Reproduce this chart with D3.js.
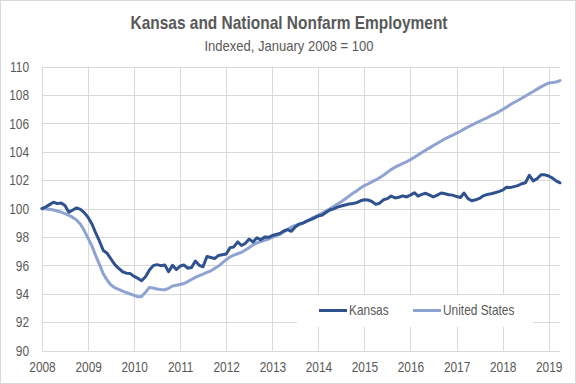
<!DOCTYPE html>
<html>
  <head>
    <title>Kansas and National Nonfarm Employment</title>
    <style>
      body {
        margin: 0;
        background: #fff;
      }
      svg {
        display: block;
        font-family: "Liberation Sans Narrow", "Arial Narrow", "Liberation Sans", sans-serif;
      }
    </style>
  </head>
  <body>
    <svg id="chart" width="576" height="384"></svg>
    <script src="https://d3js.org/d3.v7.min.js"></script>
    <script>
      // monthly index values, Jan 2008 .. Apr 2019 (Jan 2008 = 100)
      const startMonth = [2008, 0];
      const kansas = [
        100.00, 100.12, 100.28, 100.45, 100.35, 100.40, 100.22, 99.75, 99.90, 100.05, 99.95, 99.72,
        99.38, 98.90, 98.30, 97.70, 97.05, 96.85, 96.45, 96.05, 95.78, 95.55, 95.45, 95.42,
        95.22, 95.08, 94.92, 95.20, 95.65, 95.98, 96.05, 95.98, 96.02, 95.55, 96.00, 95.70,
        95.95, 96.02, 95.80, 95.85, 96.30, 96.00, 95.90, 96.62, 96.55, 96.48, 96.70, 96.75,
        96.80, 97.25, 97.30, 97.65, 97.40, 97.55, 97.85, 97.65, 97.95, 97.80, 98.00, 97.98,
        98.10, 98.18, 98.25, 98.42, 98.52, 98.40, 98.70, 98.90, 98.98, 99.12, 99.22, 99.35,
        99.48, 99.55, 99.72, 99.90, 99.98, 100.10, 100.18, 100.25, 100.32, 100.36, 100.42, 100.55,
        100.62, 100.60, 100.50, 100.30, 100.38, 100.62, 100.70, 100.88, 100.75, 100.80, 100.90, 100.82,
        100.95, 101.12, 100.88, 101.00, 101.08, 100.95, 100.82, 100.95, 101.10, 101.05, 100.98, 100.95,
        100.85, 100.78, 101.10, 100.70, 100.55, 100.62, 100.72, 100.90, 101.00, 101.05, 101.12, 101.20,
        101.30, 101.50, 101.48, 101.55, 101.62, 101.75, 101.82, 102.35, 101.95, 102.10, 102.38, 102.38,
        102.30, 102.15, 101.95, 101.82
      ];
      const unitedStates = [
        100.00, 99.97, 99.95, 99.90, 99.83, 99.75, 99.65, 99.52, 99.38, 99.20, 98.90, 98.45,
        97.90, 97.35, 96.70, 96.05, 95.40, 94.95, 94.62, 94.42, 94.30, 94.18, 94.08, 93.98,
        93.88, 93.78, 93.80, 94.10, 94.45, 94.40, 94.33, 94.30, 94.28, 94.38, 94.55, 94.60,
        94.65, 94.72, 94.85, 95.00, 95.15, 95.28, 95.38, 95.50, 95.62, 95.78, 95.95, 96.18,
        96.40, 96.60, 96.72, 96.82, 96.92, 97.08, 97.25, 97.45, 97.58, 97.68, 97.76, 97.85,
        97.98, 98.08, 98.18, 98.35, 98.52, 98.70, 98.82, 98.90, 99.00, 99.12, 99.28, 99.42,
        99.55, 99.68, 99.82, 99.98, 100.15, 100.32, 100.48, 100.68, 100.88, 101.08, 101.25, 101.45,
        101.62, 101.75, 101.88, 102.02, 102.18, 102.35, 102.55, 102.75, 102.92, 103.05, 103.18, 103.30,
        103.45, 103.62, 103.78, 103.95, 104.12, 104.28, 104.45, 104.60, 104.76, 104.92, 105.05, 105.18,
        105.32, 105.45, 105.60, 105.75, 105.88, 106.02, 106.15, 106.28, 106.40, 106.55, 106.68, 106.82,
        106.98, 107.15, 107.32, 107.48, 107.62, 107.78, 107.93, 108.10, 108.25, 108.42, 108.58, 108.72,
        108.85, 108.88, 108.92, 109.02
      ];
      const yearTicks = [2008, 2009, 2010, 2011, 2012, 2013, 2014, 2015, 2016, 2017, 2018, 2019];
      const valueTicks = [90, 92, 94, 96, 98, 100, 102, 104, 106, 108, 110];
      const seriesNames = ["Kansas", "United States"];
      const seriesColors = ["#2f528f", "#8fa3d3"];

      const svg = d3.select("#chart");
      const width = 576;
      const height = 384;
      const gridColor = "#d9d9d9";
      const textColor = "#595959";

      const months = kansas.map((v, i) => new Date(startMonth[0], startMonth[1] + i, 1));

      const x = d3
        .scaleTime()
        .domain([months[0], months[months.length - 1]])
        .range([42, 560]);
      const y = d3.scaleLinear().domain([90, 110]).range([350.5, 66.7]);

      // squeeze text horizontally so it looks like the narrow font of the original
      function narrow(sel, factor) {
        sel.each(function() {
          const w = this.getComputedTextLength();
          d3.select(this)
            .attr("textLength", w * factor)
            .attr("lengthAdjust", "spacingAndGlyphs");
        });
      }

      // outer border
      svg
        .append("rect")
        .attr("x", 0.5)
        .attr("y", 0.5)
        .attr("width", width - 1)
        .attr("height", height - 1)
        .attr("fill", "#fff")
        .attr("stroke", gridColor);

      // gridlines
      const grid = svg.append("g");
      grid
        .selectAll("line.h")
        .data(valueTicks)
        .join("line")
        .attr("class", "h")
        .attr("x1", x.range()[0])
        .attr("x2", x.range()[1])
        .attr("y1", d => Math.round(y(d)) + 0.5)
        .attr("y2", d => Math.round(y(d)) + 0.5)
        .attr("stroke", gridColor);
      grid
        .selectAll("line.v")
        .data(yearTicks)
        .join("line")
        .attr("class", "v")
        .attr("x1", d => Math.round(x(new Date(d, 0, 1))) + 0.5)
        .attr("x2", d => Math.round(x(new Date(d, 0, 1))) + 0.5)
        .attr("y1", y(110))
        .attr("y2", y(90))
        .attr("stroke", gridColor);

      // axes (labels only, Excel style)
      const xAxis = svg
        .append("g")
        .attr("transform", "translate(0," + y(90) + ")")
        .call(
          d3
            .axisBottom(x)
            .tickValues(yearTicks.map(d => new Date(d, 0, 1)))
            .tickFormat(d3.timeFormat("%Y"))
            .tickSize(0)
            .tickPadding(11)
        );
      const yAxis = svg
        .append("g")
        .attr("transform", "translate(" + x.range()[0] + ",0)")
        .call(d3.axisLeft(y).tickValues(valueTicks).tickSize(0).tickPadding(13));
      [xAxis, yAxis].forEach(g => {
        g.select(".domain").remove();
        g.selectAll("text")
          .attr("fill", textColor)
          .style("font-family", "Liberation Sans, Arial, sans-serif")
          .style("font-size", "14.5px")
          .call(narrow, 0.82);
      });

      // lines
      const line = d3
        .line()
        .x((d, i) => x(months[i]))
        .y(d => y(d));
      [unitedStates, kansas].forEach((series, k) => {
        svg
          .append("path")
          .datum(series)
          .attr("d", line)
          .attr("fill", "none")
          .attr("stroke", seriesColors[1 - k])
          .attr("stroke-width", 3)
          .attr("stroke-linejoin", "round")
          .attr("stroke-linecap", "round");
      });

      // legend
      const legend = svg.append("g");
      legend
        .append("rect")
        .attr("x", 297)
        .attr("y", 295)
        .attr("width", 236)
        .attr("height", 32)
        .attr("fill", "#fff");
      const legendX = [319, 413];
      seriesNames.forEach((name, k) => {
        legend
          .append("line")
          .attr("x1", legendX[k])
          .attr("x2", legendX[k] + 28)
          .attr("y1", 310.5)
          .attr("y2", 310.5)
          .attr("stroke", seriesColors[k])
          .attr("stroke-width", 3);
        legend
          .append("text")
          .attr("x", legendX[k] + 30)
          .attr("y", 310)
          .attr("dy", "0.35em")
          .attr("fill", textColor)
          .attr("font-family", "Liberation Sans, Arial, sans-serif")
          .attr("font-size", 14.5)
          .text(name)
          .call(narrow, 0.82);
      });

      // titles
      svg
        .append("text")
        .attr("x", 289)
        .attr("y", 29)
        .attr("text-anchor", "middle")
        .attr("font-family", "Liberation Sans, Arial, sans-serif")
        .attr("font-size", 18.5)
        .attr("font-weight", "bold")
        .attr("fill", textColor)
        .text("Kansas and National Nonfarm Employment")
        .attr("textLength", 317)
        .attr("lengthAdjust", "spacingAndGlyphs");
      svg
        .append("text")
        .attr("x", 289)
        .attr("y", 51)
        .attr("text-anchor", "middle")
        .attr("font-family", "Liberation Sans, Arial, sans-serif")
        .attr("font-size", 14.5)
        .attr("fill", textColor)
        .text("Indexed, January 2008 = 100")
        .attr("textLength", 169)
        .attr("lengthAdjust", "spacingAndGlyphs");
    </script>
  </body>
</html>
